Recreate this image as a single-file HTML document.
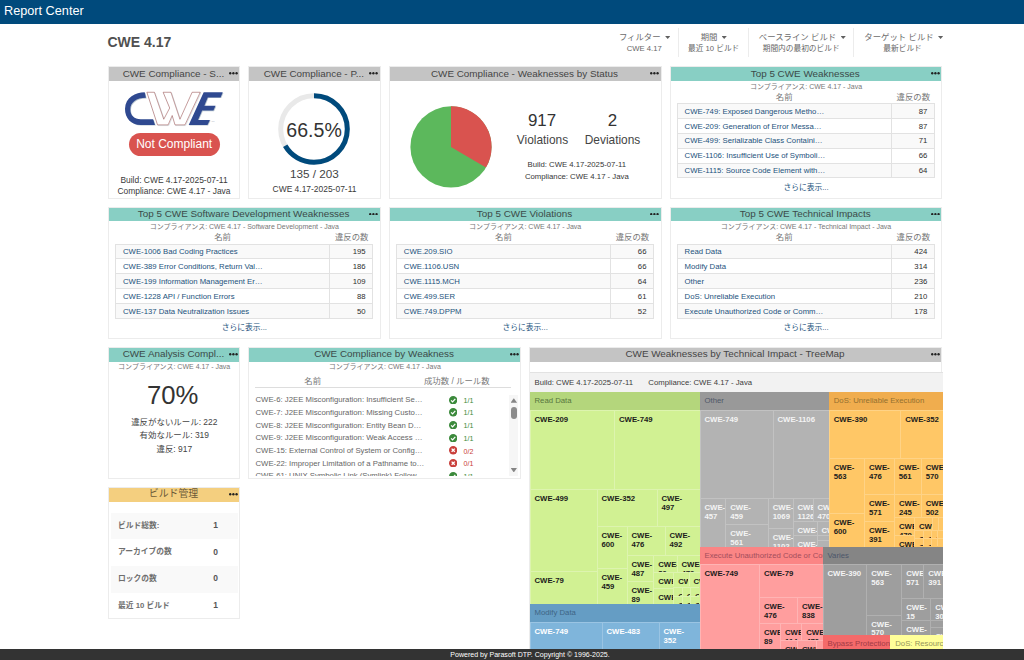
<!DOCTYPE html><html lang="ja"><head><meta charset="utf-8"><title>Report Center</title><style>
*{box-sizing:border-box;margin:0;padding:0}
html,body{width:1024px;height:660px;overflow:hidden;background:#fff}
body{font-family:"Liberation Sans","Noto Sans CJK JP",sans-serif;position:relative;color:#444}
.a{position:absolute;white-space:nowrap}
.t{position:absolute;white-space:nowrap;line-height:12px;height:12px}
.c{text-align:center}.r{text-align:right}
#top{left:0;top:0;width:1024px;height:24px;background:#004a7c}
#top span{position:absolute;left:4px;top:3.9px;font-size:12.7px;line-height:15px;color:#fff}
#title{left:107.5px;top:33.5px;font-size:14px;line-height:17px;font-weight:bold;color:#505050}
.fl{font-size:8.4px;color:#6c6c6c}.fv{font-size:7.7px;color:#666}
.caret{position:absolute;width:5.2px;height:2.8px;background:#606060;clip-path:polygon(0 0,100% 0,50% 100%)}
.dv{position:absolute;width:1px;top:28px;height:28.5px;background:#ececec}
.w{position:absolute;background:#fff;border:1px solid #ececec;overflow:hidden}
.h{position:absolute;left:-1px;top:-1px;right:-1px;height:14.6px;font-size:9.9px;line-height:14.8px;text-align:center;color:#444;white-space:nowrap;overflow:hidden;padding-right:1.5px;padding-top:.3px}
.h.g{background:#c4c4c4}.h.tl{background:#88cfc4;color:#3b4a48}.h.y{background:#f4cf7f;color:#6b5a38}
.dots{position:absolute;right:2.7px;top:6.0px;width:8.8px;height:2.5px;fill:#222}
.dots i{position:absolute;top:0;width:2.4px;height:2.4px;border-radius:50%;background:#222}
.sub{font-size:7px;color:#777}
.th{font-size:8.4px;color:#777}
.tb{position:absolute;border:1px solid #e2e2e2;border-bottom:0}
.tr{position:relative;height:14.84px;border-bottom:1px solid #e2e2e2;font-size:7.75px;line-height:14.8px;color:#23527c}
.tr.o{background:#f9f9f9}
.tr .n{position:absolute;left:7px;top:.6px;white-space:nowrap}
.tr .v{position:absolute;right:0;top:0;width:43px;height:100%;padding-top:.6px;border-left:1px solid #e2e2e2;text-align:right;padding-right:6.5px;color:#2e2e2e}
.more{font-size:7.75px;color:#23527c}
.small{font-size:8.45px;color:#3a3a3a}
.xs{font-size:7.75px;color:#363636}
.li{font-size:7.75px;color:#666}
.ok{color:#3c8a3c}.bad{color:#c9403c}
.tm{position:absolute;overflow:hidden;font-size:7.75px;line-height:8.75px;font-weight:bold;white-space:nowrap}
.tm span{position:absolute;left:5px;top:6.1px;overflow:visible;word-break:normal}
.band{position:absolute;overflow:hidden;font-size:7.75px;line-height:18px;white-space:nowrap;padding-left:5px}
.bm{font-size:7.75px;font-weight:bold;color:#6e6e6e}
#foot{left:0;top:649.2px;width:1024px;height:11px;background:#333;color:#fff;font-size:7.05px;line-height:12.6px;text-align:center;padding-left:36px;overflow:hidden}
</style></head><body>
<div id="top" class="a"><span>Report Center</span></div>
<div id="title" class="a">CWE 4.17</div>
<div class="t fl" style="left:360.60px;width:300px;top:30.50px;text-align:right;">フィルター</div>
<i class="caret" style="left:665.10px;top:36.10px"></i>
<div class="t fv" style="left:361.80px;width:300px;top:43.00px;text-align:right;">CWE 4.17</div>
<div class="t fl" style="left:559.10px;width:300px;top:30.50px;text-align:center;">期間</div>
<i class="caret" style="left:721.60px;top:36.10px"></i>
<div class="t fv" style="left:563.70px;width:300px;top:43.00px;text-align:center;">最近 10 ビルド</div>
<div class="t fl" style="left:647.50px;width:300px;top:30.50px;text-align:center;">ベースライン ビルド</div>
<i class="caret" style="left:840.60px;top:36.10px"></i>
<div class="t fv" style="left:651.20px;width:300px;top:43.00px;text-align:center;">期間内の最初のビルド</div>
<div class="t fl" style="left:749.00px;width:300px;top:30.50px;text-align:center;">ターゲット ビルド</div>
<i class="caret" style="left:938.00px;top:36.10px"></i>
<div class="t fv" style="left:752.60px;width:300px;top:43.00px;text-align:center;">最新ビルド</div>
<i class="dv" style="left:678px"></i>
<i class="dv" style="left:747.5px"></i>
<i class="dv" style="left:853.3px"></i>
<div class="w" style="left:108.00px;top:66.30px;width:132.40px;height:132.3px"><div class="h g">CWE Compliance - S...<svg class="dots" viewBox="0 0 86 24"><circle cx="12" cy="12" r="11.5"/><circle cx="43" cy="12" r="11.5"/><circle cx="74" cy="12" r="11.5"/></svg></div></div>
<svg class="a" style="left:120px;top:88px;width:108px;height:41px" viewBox="0 0 1728 656">
<g transform="translate(11,11)" fill="#b9c6cf"><path fill="none" stroke="#c5d0d6" stroke-width="9" d="M430,68 550,68 700,500 795,320 690,68 815,68 959,500 1154,68 1284,68 1039,590 880,590 835,440 770,590 600,590Z"/><path d="M395,68 C250,68 85,150 80,330 C78,480 180,590 330,590 L560,590 L530,500 L330,500 C230,500 165,440 165,340 C165,230 260,155 415,155 Z"/><path d="M1339,68 1644,68 1609,150 1404,150 1349,285 1529,285 1494,360 1314,360 1249,510 1439,510 1399,590 1099,590Z"/></g>
<path fill="#fff" stroke="#934545" stroke-width="8.5" stroke-linejoin="miter" d="M430,68 550,68 700,500 795,320 690,68 815,68 959,500 1154,68 1284,68 1039,590 880,590 835,440 770,590 600,590Z"/>
<path fill="#2f4990" d="M395,68 C250,68 85,150 80,330 C78,480 180,590 330,590 L560,590 L530,500 L330,500 C230,500 165,440 165,340 C165,230 260,155 415,155 Z"/>
<path fill="#2f4990" d="M1339,68 1644,68 1609,150 1404,150 1349,285 1529,285 1494,360 1314,360 1249,510 1439,510 1399,590 1099,590Z"/>
<text x="1465" y="545" font-size="34" fill="#aab" font-family="Liberation Sans, sans-serif">TM</text>
</svg>
<div class="a" style="left:128.8px;top:133px;width:90.8px;height:23px;border-radius:12px;background:#d9534f;color:#fff;font-size:12px;line-height:22.5px;text-align:center">Not Compliant</div>
<div class="t small" style="left:24.00px;width:300px;top:173.50px;text-align:center;">Build: CWE 4.17-2025-07-11</div>
<div class="t small" style="left:24.00px;width:300px;top:185.00px;text-align:center;">Compliance: CWE 4.17 - Java</div>
<div class="w" style="left:248.40px;top:66.30px;width:132.40px;height:132.3px"><div class="h g">CWE Compliance - P...<svg class="dots" viewBox="0 0 86 24"><circle cx="12" cy="12" r="11.5"/><circle cx="43" cy="12" r="11.5"/><circle cx="74" cy="12" r="11.5"/></svg></div></div>
<svg class="a" style="left:273.9px;top:89px;width:80px;height:80px" viewBox="-40 -40 80 80"><circle r="33.3" fill="none" stroke="#e9e9e9" stroke-width="5"/><circle r="33.3" fill="none" stroke="#004a7c" stroke-width="5" stroke-dasharray="139.14 209.23" transform="rotate(-90)"/></svg>
<div class="t " style="left:164.10px;width:300px;top:123.50px;text-align:center;font-size:19.6px;color:#333;">66.5%</div>
<div class="t " style="left:164.30px;width:300px;top:168.00px;text-align:center;font-size:11.7px;color:#444;">135 / 203</div>
<div class="t small" style="left:164.50px;width:300px;top:182.60px;text-align:center;">CWE 4.17-2025-07-11</div>
<div class="w" style="left:388.80px;top:66.30px;width:272.80px;height:132.3px"><div class="h g">CWE Compliance - Weaknesses by Status<svg class="dots" viewBox="0 0 86 24"><circle cx="12" cy="12" r="11.5"/><circle cx="43" cy="12" r="11.5"/><circle cx="74" cy="12" r="11.5"/></svg></div></div>
<svg class="a" style="left:0;top:0;width:1024px;height:660px;pointer-events:none" viewBox="0 0 1024 660"><circle cx="451" cy="146.9" r="40.6" fill="#5cb85c"/><path d="M451,146.9 L451,106.30000000000001 A40.6,40.6 0 0 1 485.95,167.57Z" fill="#d9534f"/></svg>
<div class="t " style="left:392.00px;width:300px;top:115.20px;text-align:center;font-size:16.9px;color:#333;">917</div>
<div class="t " style="left:462.50px;width:300px;top:115.20px;text-align:center;font-size:16.9px;color:#333;">2</div>
<div class="t " style="left:392.50px;width:300px;top:133.90px;text-align:center;font-size:11.9px;color:#444;">Violations</div>
<div class="t " style="left:462.50px;width:300px;top:133.90px;text-align:center;font-size:11.9px;color:#444;">Deviations</div>
<div class="t xs" style="left:426.80px;width:300px;top:159.00px;text-align:center;">Build: CWE 4.17-2025-07-11</div>
<div class="t xs" style="left:426.80px;width:300px;top:170.50px;text-align:center;">Compliance: CWE 4.17 - Java</div>
<div class="w" style="left:669.60px;top:66.30px;width:272.80px;height:132.3px"><div class="h tl">Top 5 CWE Weaknesses<svg class="dots" viewBox="0 0 86 24"><circle cx="12" cy="12" r="11.5"/><circle cx="43" cy="12" r="11.5"/><circle cx="74" cy="12" r="11.5"/></svg></div></div>
<div class="t sub" style="left:656.00px;width:300px;top:80.60px;text-align:center;">コンプライアンス: CWE 4.17 - Java</div>
<div class="t th" style="left:634.20px;width:300px;top:90.80px;text-align:center;">名前</div>
<div class="t th" style="left:763.30px;width:300px;top:90.80px;text-align:center;">違反の数</div>
<div class="tb" style="left:676.60px;top:103.20px;width:258.20px"><div class="tr o"><span class="n">CWE-749: Exposed Dangerous Metho…</span><span class="v">87</span></div><div class="tr"><span class="n">CWE-209: Generation of Error Messa…</span><span class="v">87</span></div><div class="tr o"><span class="n">CWE-499: Serializable Class Containi…</span><span class="v">71</span></div><div class="tr"><span class="n">CWE-1106: Insufficient Use of Symboli…</span><span class="v">66</span></div><div class="tr o"><span class="n">CWE-1115: Source Code Element with…</span><span class="v">64</span></div></div>
<div class="t more" style="left:656.00px;width:300px;top:181.90px;text-align:center;">さらに表示...</div>
<div class="w" style="left:108.00px;top:206.70px;width:272.80px;height:132.3px"><div class="h tl">Top 5 CWE Software Development Weaknesses<svg class="dots" viewBox="0 0 86 24"><circle cx="12" cy="12" r="11.5"/><circle cx="43" cy="12" r="11.5"/><circle cx="74" cy="12" r="11.5"/></svg></div></div>
<div class="t sub" style="left:94.40px;width:300px;top:221.00px;text-align:center;">コンプライアンス: CWE 4.17 - Software Development - Java</div>
<div class="t th" style="left:72.60px;width:300px;top:231.20px;text-align:center;">名前</div>
<div class="t th" style="left:201.70px;width:300px;top:231.20px;text-align:center;">違反の数</div>
<div class="tb" style="left:115.00px;top:243.60px;width:258.20px"><div class="tr o"><span class="n">CWE-1006 Bad Coding Practices</span><span class="v">195</span></div><div class="tr"><span class="n">CWE-389 Error Conditions, Return Val…</span><span class="v">186</span></div><div class="tr o"><span class="n">CWE-199 Information Management Er…</span><span class="v">109</span></div><div class="tr"><span class="n">CWE-1228 API / Function Errors</span><span class="v">88</span></div><div class="tr o"><span class="n">CWE-137 Data Neutralization Issues</span><span class="v">50</span></div></div>
<div class="t more" style="left:94.40px;width:300px;top:322.30px;text-align:center;">さらに表示...</div>
<div class="w" style="left:388.80px;top:206.70px;width:272.80px;height:132.3px"><div class="h tl">Top 5 CWE Violations<svg class="dots" viewBox="0 0 86 24"><circle cx="12" cy="12" r="11.5"/><circle cx="43" cy="12" r="11.5"/><circle cx="74" cy="12" r="11.5"/></svg></div></div>
<div class="t sub" style="left:375.20px;width:300px;top:221.00px;text-align:center;">コンプライアンス: CWE 4.17 - Java</div>
<div class="t th" style="left:353.40px;width:300px;top:231.20px;text-align:center;">名前</div>
<div class="t th" style="left:482.50px;width:300px;top:231.20px;text-align:center;">違反の数</div>
<div class="tb" style="left:395.80px;top:243.60px;width:258.20px"><div class="tr o"><span class="n">CWE.209.SIO</span><span class="v">66</span></div><div class="tr"><span class="n">CWE.1106.USN</span><span class="v">66</span></div><div class="tr o"><span class="n">CWE.1115.MCH</span><span class="v">64</span></div><div class="tr"><span class="n">CWE.499.SER</span><span class="v">61</span></div><div class="tr o"><span class="n">CWE.749.DPPM</span><span class="v">52</span></div></div>
<div class="t more" style="left:375.20px;width:300px;top:322.30px;text-align:center;">さらに表示...</div>
<div class="w" style="left:669.60px;top:206.70px;width:272.80px;height:132.3px"><div class="h tl">Top 5 CWE Technical Impacts<svg class="dots" viewBox="0 0 86 24"><circle cx="12" cy="12" r="11.5"/><circle cx="43" cy="12" r="11.5"/><circle cx="74" cy="12" r="11.5"/></svg></div></div>
<div class="t sub" style="left:656.00px;width:300px;top:221.00px;text-align:center;">コンプライアンス: CWE 4.17 - Technical Impact - Java</div>
<div class="t th" style="left:634.20px;width:300px;top:231.20px;text-align:center;">名前</div>
<div class="t th" style="left:763.30px;width:300px;top:231.20px;text-align:center;">違反の数</div>
<div class="tb" style="left:676.60px;top:243.60px;width:258.20px"><div class="tr o"><span class="n">Read Data</span><span class="v">424</span></div><div class="tr"><span class="n">Modify Data</span><span class="v">314</span></div><div class="tr o"><span class="n">Other</span><span class="v">236</span></div><div class="tr"><span class="n">DoS: Unreliable Execution</span><span class="v">210</span></div><div class="tr o"><span class="n">Execute Unauthorized Code or Comm…</span><span class="v">178</span></div></div>
<div class="t more" style="left:656.00px;width:300px;top:322.30px;text-align:center;">さらに表示...</div>
<div class="w" style="left:108.00px;top:347.00px;width:132.40px;height:132.3px"><div class="h tl">CWE Analysis Compl...<svg class="dots" viewBox="0 0 86 24"><circle cx="12" cy="12" r="11.5"/><circle cx="43" cy="12" r="11.5"/><circle cx="74" cy="12" r="11.5"/></svg></div></div>
<div class="t sub" style="left:24.20px;width:300px;top:360.80px;text-align:center;">コンプライアンス: CWE 4.17 - Java</div>
<div class="t " style="left:22.70px;width:300px;top:389.40px;text-align:center;font-size:25.7px;color:#333;">70%</div>
<div class="t " style="left:24.30px;width:300px;top:416.00px;text-align:center;font-size:8.45px;color:#444;">違反がないルール: 222</div>
<div class="t " style="left:24.30px;width:300px;top:429.30px;text-align:center;font-size:8.45px;color:#444;">有効なルール: 319</div>
<div class="t " style="left:24.30px;width:300px;top:443.00px;text-align:center;font-size:8.45px;color:#444;">違反: 917</div>
<div class="w" style="left:248.40px;top:347.00px;width:272.80px;height:132.3px"><div class="h tl">CWE Compliance by Weakness<svg class="dots" viewBox="0 0 86 24"><circle cx="12" cy="12" r="11.5"/><circle cx="43" cy="12" r="11.5"/><circle cx="74" cy="12" r="11.5"/></svg></div></div>
<div class="t sub" style="left:234.80px;width:300px;top:360.80px;text-align:center;">コンプライアンス: CWE 4.17 - Java</div>
<div class="t th" style="left:162.70px;width:300px;top:374.60px;text-align:center;">名前</div>
<div class="t th" style="left:306.80px;width:300px;top:374.60px;text-align:center;">成功数 / ルール数</div>
<i class="a" style="left:255.3px;top:386.5px;width:255.6px;height:1px;background:#ddd"></i>
<div class="a" style="left:250px;top:390px;width:268px;height:86.3px;overflow:hidden">
<div class="t li" style="left:5.5px;top:4.30px">CWE-6: J2EE Misconfiguration: Insufficient Se…</div>
<svg class="a" style="left:198.8px;top:5.7px;width:8.4px;height:8.4px" viewBox="0 0 16 16"><circle cx="8" cy="8" r="8" fill="#3c8a3c"/><path d="M4 8.4l2.8 2.8 5.2-5.6" fill="none" stroke="#fff" stroke-width="2.4"/></svg>
<div class="t li ok" style="left:213.6px;top:4.80px;font-size:7.15px">1/1</div>
<div class="t li" style="left:5.5px;top:16.98px">CWE-7: J2EE Misconfiguration: Missing Custo…</div>
<svg class="a" style="left:198.8px;top:18.38px;width:8.4px;height:8.4px" viewBox="0 0 16 16"><circle cx="8" cy="8" r="8" fill="#3c8a3c"/><path d="M4 8.4l2.8 2.8 5.2-5.6" fill="none" stroke="#fff" stroke-width="2.4"/></svg>
<div class="t li ok" style="left:213.6px;top:17.48px;font-size:7.15px">1/1</div>
<div class="t li" style="left:5.5px;top:29.66px">CWE-8: J2EE Misconfiguration: Entity Bean D…</div>
<svg class="a" style="left:198.8px;top:31.06px;width:8.4px;height:8.4px" viewBox="0 0 16 16"><circle cx="8" cy="8" r="8" fill="#3c8a3c"/><path d="M4 8.4l2.8 2.8 5.2-5.6" fill="none" stroke="#fff" stroke-width="2.4"/></svg>
<div class="t li ok" style="left:213.6px;top:30.16px;font-size:7.15px">1/1</div>
<div class="t li" style="left:5.5px;top:42.34px">CWE-9: J2EE Misconfiguration: Weak Access …</div>
<svg class="a" style="left:198.8px;top:43.74px;width:8.4px;height:8.4px" viewBox="0 0 16 16"><circle cx="8" cy="8" r="8" fill="#3c8a3c"/><path d="M4 8.4l2.8 2.8 5.2-5.6" fill="none" stroke="#fff" stroke-width="2.4"/></svg>
<div class="t li ok" style="left:213.6px;top:42.84px;font-size:7.15px">1/1</div>
<div class="t li" style="left:5.5px;top:55.02px">CWE-15: External Control of System or Config…</div>
<svg class="a" style="left:198.8px;top:56.42px;width:8.4px;height:8.4px" viewBox="0 0 16 16"><circle cx="8" cy="8" r="8" fill="#c9403c"/><path d="M5 5l6 6M11 5l-6 6" fill="none" stroke="#fff" stroke-width="2.6"/></svg>
<div class="t li bad" style="left:213.6px;top:55.52px;font-size:7.15px">0/2</div>
<div class="t li" style="left:5.5px;top:67.70px">CWE-22: Improper Limitation of a Pathname to…</div>
<svg class="a" style="left:198.8px;top:69.1px;width:8.4px;height:8.4px" viewBox="0 0 16 16"><circle cx="8" cy="8" r="8" fill="#c9403c"/><path d="M5 5l6 6M11 5l-6 6" fill="none" stroke="#fff" stroke-width="2.6"/></svg>
<div class="t li bad" style="left:213.6px;top:68.20px;font-size:7.15px">0/1</div>
<div class="t li" style="left:5.5px;top:80.38px">CWE-61: UNIX Symbolic Link (Symlink) Follow…</div>
<svg class="a" style="left:198.8px;top:81.78px;width:8.4px;height:8.4px" viewBox="0 0 16 16"><circle cx="8" cy="8" r="8" fill="#3c8a3c"/><path d="M4 8.4l2.8 2.8 5.2-5.6" fill="none" stroke="#fff" stroke-width="2.4"/></svg>
<div class="t li ok" style="left:213.6px;top:80.88px;font-size:7.15px">1/1</div>
</div>
<i class="a" style="left:509.2px;top:394.8px;width:9.2px;height:81.5px;background:#f6f6f6"></i>
<i class="a" style="left:510.5px;top:398.2px;width:6.6px;height:4.6px;background:#858585;clip-path:polygon(50% 0,100% 100%,0 100%)"></i>
<i class="a" style="left:510.5px;top:467.8px;width:6.6px;height:4.6px;background:#858585;clip-path:polygon(0 0,100% 0,50% 100%)"></i>
<i class="a" style="left:510.9px;top:407px;width:6px;height:12px;border-radius:3px;background:#8c8c8c"></i>
<div class="w" style="left:108.00px;top:487.00px;width:132.40px;height:132.3px"><div class="h y">ビルド管理<svg class="dots" viewBox="0 0 86 24"><circle cx="12" cy="12" r="11.5"/><circle cx="43" cy="12" r="11.5"/><circle cx="74" cy="12" r="11.5"/></svg></div></div>
<i class="a" style="left:110.5px;top:512.60px;width:127.3px;height:26.2px;background:#f9f9f9"></i>
<div class="t bm" style="left:118.00px;top:519.70px;">ビルド総数:</div>
<div class="t bm" style="left:65.60px;width:300px;top:519.00px;text-align:center;font-size:8.45px;color:#555;">1</div>
<div class="t bm" style="left:118.00px;top:546.35px;">アーカイブの数</div>
<div class="t bm" style="left:65.60px;width:300px;top:545.65px;text-align:center;font-size:8.45px;color:#555;">0</div>
<i class="a" style="left:110.5px;top:566.40px;width:127.3px;height:26.2px;background:#f9f9f9"></i>
<div class="t bm" style="left:118.00px;top:573.00px;">ロックの数</div>
<div class="t bm" style="left:65.60px;width:300px;top:572.30px;text-align:center;font-size:8.45px;color:#555;">0</div>
<div class="t bm" style="left:118.00px;top:599.65px;">最近 10 ビルド</div>
<div class="t bm" style="left:65.60px;width:300px;top:598.95px;text-align:center;font-size:8.45px;color:#555;">1</div>
<div class="w" style="left:529.20px;top:347.00px;width:413.20px;height:330px"><div class="h g">CWE Weaknesses by Technical Impact - TreeMap<svg class="dots" viewBox="0 0 86 24"><circle cx="12" cy="12" r="11.5"/><circle cx="43" cy="12" r="11.5"/><circle cx="74" cy="12" r="11.5"/></svg></div></div>
<div class="a" style="left:529.5px;top:372.0px;width:413.10px;height:288.0px;overflow:hidden">
<div class="a" style="left:0;top:0;width:413.10px;height:19.75px;background:#f2f2f2;border-top:1px solid #e2e2e2;font-size:7.75px;line-height:20px;color:#3c3c3c"><span class="a" style="left:5px">Build: CWE 4.17-2025-07-11</span><span class="a" style="left:118.8px">Compliance: CWE 4.17 - Java</span></div>
<i class="a" style="left:0.00px;top:19.75px;width:170.00px;height:212.25px;background:#d1f193"></i>
<i class="a" style="left:0.00px;top:231.75px;width:170.00px;height:56.25px;background:#7fb5db"></i>
<i class="a" style="left:170.00px;top:19.75px;width:129.25px;height:154.85px;background:#b3b3b3"></i>
<i class="a" style="left:299.25px;top:19.75px;width:113.85px;height:154.85px;background:#ffc766"></i>
<i class="a" style="left:170.00px;top:174.50px;width:123.00px;height:113.50px;background:#ff9e9e"></i>
<i class="a" style="left:293.00px;top:174.50px;width:120.10px;height:88.50px;background:#9e9e9e"></i>
<div class="band" style="left:0.00px;top:19.75px;width:170.00px;height:18.25px;background:#b4d67c;color:#58763f">Read Data</div>
<div class="band" style="left:0.00px;top:231.75px;width:170.00px;height:18.25px;background:#659dc4;color:#3f6585">Modify Data</div>
<div class="band" style="left:170.00px;top:19.75px;width:129.25px;height:18.25px;background:#999999;color:#4f5868">Other</div>
<div class="band" style="left:299.25px;top:19.75px;width:113.85px;height:18.25px;background:#f0ad4e;color:#94702f">DoS: Unreliable Execution</div>
<div class="band" style="left:170.00px;top:174.50px;width:123.00px;height:17.75px;background:#fb8585;color:#a34e5c">Execute Unauthorized Code or Commands</div>
<div class="band" style="left:293.00px;top:174.50px;width:120.10px;height:17.75px;background:#858585;color:#4c566a">Varies</div>
<div class="band" style="left:293.00px;top:262.50px;width:67.75px;height:25.50px;background:#f46a6a;color:#a33a45">Bypass Protection Mechanism</div>
<div class="band" style="left:360.75px;top:262.50px;width:52.35px;height:25.50px;background:#ffff99;color:#95955a">DoS: Resource Consumption</div>
<div class="tm" style="left:0.00px;top:38.00px;width:84.50px;height:79.25px;background:#d1f193;box-shadow:inset 1px 1px 0 #ddf4af;color:#1c1c1c"><span>CWE-209</span></div>
<div class="tm" style="left:84.50px;top:38.00px;width:85.50px;height:79.25px;background:#d1f193;box-shadow:inset 1px 1px 0 #ddf4af;color:#1c1c1c"><span>CWE-749</span></div>
<div class="tm" style="left:0.00px;top:117.25px;width:67.00px;height:82.00px;background:#d1f193;box-shadow:inset 1px 1px 0 #ddf4af;color:#1c1c1c"><span>CWE-499</span></div>
<div class="tm" style="left:0.00px;top:199.25px;width:67.00px;height:32.50px;background:#d1f193;box-shadow:inset 1px 1px 0 #ddf4af;color:#1c1c1c"><span>CWE-79</span></div>
<div class="tm" style="left:67.00px;top:117.25px;width:60.00px;height:37.00px;background:#d1f193;box-shadow:inset 1px 1px 0 #ddf4af;color:#1c1c1c"><span>CWE-352</span></div>
<div class="tm" style="left:127.00px;top:117.25px;width:43.00px;height:37.00px;background:#d1f193;box-shadow:inset 1px 1px 0 #ddf4af;color:#1c1c1c"><span>CWE-<br>497</span></div>
<div class="tm" style="left:67.00px;top:154.25px;width:30.00px;height:42.00px;background:#d1f193;box-shadow:inset 1px 1px 0 #ddf4af;color:#1c1c1c"><span>CWE-<br>600</span></div>
<div class="tm" style="left:97.00px;top:154.25px;width:38.00px;height:28.75px;background:#d1f193;box-shadow:inset 1px 1px 0 #ddf4af;color:#1c1c1c"><span>CWE-<br>476</span></div>
<div class="tm" style="left:135.00px;top:154.25px;width:35.00px;height:28.75px;background:#d1f193;box-shadow:inset 1px 1px 0 #ddf4af;color:#1c1c1c"><span>CWE-<br>492</span></div>
<div class="tm" style="left:67.00px;top:196.25px;width:30.00px;height:35.50px;background:#d1f193;box-shadow:inset 1px 1px 0 #ddf4af;color:#1c1c1c"><span>CWE-<br>459</span></div>
<div class="tm" style="left:97.00px;top:183.00px;width:26.75px;height:25.75px;background:#d1f193;box-shadow:inset 1px 1px 0 #ddf4af;color:#1c1c1c"><span>CWE-<br>487</span></div>
<div class="tm" style="left:97.00px;top:208.75px;width:26.75px;height:23.00px;background:#d1f193;box-shadow:inset 1px 1px 0 #ddf4af;color:#1c1c1c"><span>CWE-<br>89</span></div>
<div class="tm" style="left:123.75px;top:183.00px;width:23.25px;height:17.20px;background:#d1f193;box-shadow:inset 1px 1px 0 #ddf4af;color:#1c1c1c"><span>CWE-<br>80</span></div>
<div class="tm" style="left:147.00px;top:183.00px;width:23.00px;height:17.20px;background:#d1f193;box-shadow:inset 1px 1px 0 #ddf4af;color:#1c1c1c"><span>CWE-<br>479</span></div>
<div class="tm" style="left:123.75px;top:200.20px;width:19.95px;height:16.00px;background:#d1f193;box-shadow:inset 1px 1px 0 #ddf4af;color:#1c1c1c"><span>CWE-<br>94</span></div>
<div class="tm" style="left:143.70px;top:200.20px;width:15.30px;height:14.30px;background:#d1f193;box-shadow:inset 1px 1px 0 #ddf4af;color:#1c1c1c"><span>CWE-<br>15</span></div>
<div class="tm" style="left:159.00px;top:200.20px;width:11.00px;height:14.30px;background:#d1f193;box-shadow:inset 1px 1px 0 #ddf4af;color:#1c1c1c"><span>CWE-<br>22</span></div>
<div class="tm" style="left:123.75px;top:216.20px;width:19.95px;height:15.55px;background:#d1f193;box-shadow:inset 1px 1px 0 #ddf4af;color:#1c1c1c"><span>CWE-<br>114</span></div>
<div class="tm" style="left:143.70px;top:214.50px;width:8.50px;height:9.00px;background:#d1f193;box-shadow:inset 1px 1px 0 #ddf4af;color:#1c1c1c"><span>CWE-<br>73</span></div>
<div class="tm" style="left:152.20px;top:214.50px;width:8.40px;height:9.00px;background:#d1f193;box-shadow:inset 1px 1px 0 #ddf4af;color:#1c1c1c"><span>CWE-<br>99</span></div>
<div class="tm" style="left:160.60px;top:214.50px;width:9.40px;height:9.00px;background:#d1f193;box-shadow:inset 1px 1px 0 #ddf4af;color:#1c1c1c"><span>CWE-<br>23</span></div>
<div class="tm" style="left:143.70px;top:223.50px;width:8.50px;height:8.25px;background:#d1f193;box-shadow:inset 1px 1px 0 #ddf4af;color:#1c1c1c"><span>CWE-<br>36</span></div>
<div class="tm" style="left:152.20px;top:223.50px;width:8.40px;height:8.25px;background:#d1f193;box-shadow:inset 1px 1px 0 #ddf4af;color:#1c1c1c"><span>CWE-<br>78</span></div>
<div class="tm" style="left:160.60px;top:223.50px;width:9.40px;height:8.25px;background:#d1f193;box-shadow:inset 1px 1px 0 #ddf4af;color:#1c1c1c"><span>CWE-<br>91</span></div>
<div class="tm" style="left:0.00px;top:250.00px;width:72.00px;height:38.00px;background:#7fb5db;box-shadow:inset 1px 1px 0 #9ac4e3;color:#ffffff"><span>CWE-749</span></div>
<div class="tm" style="left:72.00px;top:250.00px;width:57.00px;height:38.00px;background:#7fb5db;box-shadow:inset 1px 1px 0 #9ac4e3;color:#ffffff"><span>CWE-483</span></div>
<div class="tm" style="left:129.00px;top:250.00px;width:41.00px;height:38.00px;background:#7fb5db;box-shadow:inset 1px 1px 0 #9ac4e3;color:#ffffff"><span>CWE-<br>352</span></div>
<div class="tm" style="left:170.00px;top:38.00px;width:73.00px;height:88.25px;background:#b3b3b3;box-shadow:inset 1px 1px 0 #c2c2c2;color:#f4f4f4"><span>CWE-749</span></div>
<div class="tm" style="left:243.00px;top:38.00px;width:56.25px;height:88.25px;background:#b3b3b3;box-shadow:inset 1px 1px 0 #c2c2c2;color:#f4f4f4"><span>CWE-1106</span></div>
<div class="tm" style="left:170.00px;top:126.25px;width:25.75px;height:48.25px;background:#b3b3b3;box-shadow:inset 1px 1px 0 #c2c2c2;color:#f4f4f4"><span>CWE-<br>457</span></div>
<div class="tm" style="left:195.75px;top:126.25px;width:42.50px;height:25.50px;background:#b3b3b3;box-shadow:inset 1px 1px 0 #c2c2c2;color:#f4f4f4"><span>CWE-<br>459</span></div>
<div class="tm" style="left:195.75px;top:151.75px;width:42.50px;height:22.75px;background:#b3b3b3;box-shadow:inset 1px 1px 0 #c2c2c2;color:#f4f4f4"><span>CWE-<br>561</span></div>
<div class="tm" style="left:238.25px;top:126.25px;width:24.75px;height:30.00px;background:#b3b3b3;box-shadow:inset 1px 1px 0 #c2c2c2;color:#f4f4f4"><span>CWE-<br>1069</span></div>
<div class="tm" style="left:263.00px;top:126.25px;width:20.00px;height:23.00px;background:#b3b3b3;box-shadow:inset 1px 1px 0 #c2c2c2;color:#f4f4f4"><span>CWE-<br>1126</span></div>
<div class="tm" style="left:283.00px;top:126.25px;width:16.25px;height:23.00px;background:#b3b3b3;box-shadow:inset 1px 1px 0 #c2c2c2;color:#f4f4f4"><span>CWE-<br>470</span></div>
<div class="tm" style="left:238.25px;top:156.25px;width:24.75px;height:18.25px;background:#b3b3b3;box-shadow:inset 1px 1px 0 #c2c2c2;color:#f4f4f4"><span>CWE-<br>1102</span></div>
<div class="tm" style="left:263.00px;top:149.25px;width:24.00px;height:13.75px;background:#b3b3b3;box-shadow:inset 1px 1px 0 #c2c2c2;color:#f4f4f4"><span>CWE-<br>1078</span></div>
<div class="tm" style="left:287.00px;top:149.25px;width:12.25px;height:13.25px;background:#b3b3b3;box-shadow:inset 1px 1px 0 #c2c2c2;color:#f4f4f4"><span>CWE-<br>15</span></div>
<div class="tm" style="left:287.00px;top:162.50px;width:12.25px;height:5.80px;background:#b3b3b3;box-shadow:inset 1px 1px 0 #c2c2c2;color:#f4f4f4"></div>
<div class="tm" style="left:287.00px;top:168.30px;width:12.25px;height:6.20px;background:#b3b3b3;box-shadow:inset 1px 1px 0 #c2c2c2;color:#f4f4f4"></div>
<div class="tm" style="left:263.00px;top:163.00px;width:24.00px;height:11.50px;background:#b3b3b3;box-shadow:inset 1px 1px 0 #c2c2c2;color:#f4f4f4"><span>CWE-<br>1080</span></div>
<div class="tm" style="left:299.25px;top:38.00px;width:71.50px;height:48.25px;background:#ffc766;box-shadow:inset 1px 1px 0 #ffd386;color:#1c1c1c"><span>CWE-390</span></div>
<div class="tm" style="left:370.75px;top:38.00px;width:59.75px;height:48.25px;background:#ffc766;box-shadow:inset 1px 1px 0 #ffd386;color:#1c1c1c"><span>CWE-352</span></div>
<div class="tm" style="left:299.25px;top:86.25px;width:35.25px;height:55.00px;background:#ffc766;box-shadow:inset 1px 1px 0 #ffd386;color:#1c1c1c"><span>CWE-<br>563</span></div>
<div class="tm" style="left:299.25px;top:141.25px;width:35.25px;height:33.25px;background:#ffc766;box-shadow:inset 1px 1px 0 #ffd386;color:#1c1c1c"><span>CWE-<br>600</span></div>
<div class="tm" style="left:334.50px;top:86.25px;width:29.75px;height:35.50px;background:#ffc766;box-shadow:inset 1px 1px 0 #ffd386;color:#1c1c1c"><span>CWE-<br>476</span></div>
<div class="tm" style="left:364.25px;top:86.25px;width:27.00px;height:35.50px;background:#ffc766;box-shadow:inset 1px 1px 0 #ffd386;color:#1c1c1c"><span>CWE-<br>561</span></div>
<div class="tm" style="left:391.25px;top:86.25px;width:21.85px;height:35.50px;background:#ffc766;box-shadow:inset 1px 1px 0 #ffd386;color:#1c1c1c"><span>CWE-<br>570</span></div>
<div class="tm" style="left:334.50px;top:121.75px;width:30.00px;height:27.50px;background:#ffc766;box-shadow:inset 1px 1px 0 #ffd386;color:#1c1c1c"><span>CWE-<br>571</span></div>
<div class="tm" style="left:334.50px;top:149.25px;width:30.00px;height:25.25px;background:#ffc766;box-shadow:inset 1px 1px 0 #ffd386;color:#1c1c1c"><span>CWE-<br>391</span></div>
<div class="tm" style="left:364.50px;top:121.75px;width:26.75px;height:23.25px;background:#ffc766;box-shadow:inset 1px 1px 0 #ffd386;color:#1c1c1c"><span>CWE-<br>245</span></div>
<div class="tm" style="left:391.25px;top:121.75px;width:21.85px;height:23.25px;background:#ffc766;box-shadow:inset 1px 1px 0 #ffd386;color:#1c1c1c"><span>CWE-<br>502</span></div>
<div class="tm" style="left:364.50px;top:145.00px;width:20.00px;height:18.00px;background:#ffc766;box-shadow:inset 1px 1px 0 #ffd386;color:#1c1c1c"><span>CWE-<br>479</span></div>
<div class="tm" style="left:384.50px;top:145.00px;width:18.00px;height:13.00px;background:#ffc766;box-shadow:inset 1px 1px 0 #ffd386;color:#1c1c1c"><span>CWE-<br>470</span></div>
<div class="tm" style="left:402.50px;top:145.00px;width:6.25px;height:13.00px;background:#ffc766;box-shadow:inset 1px 1px 0 #ffd386;color:#1c1c1c"></div>
<div class="tm" style="left:408.75px;top:145.00px;width:4.35px;height:13.00px;background:#ffc766;box-shadow:inset 1px 1px 0 #ffd386;color:#1c1c1c"></div>
<div class="tm" style="left:364.50px;top:163.00px;width:20.00px;height:11.50px;background:#ffc766;box-shadow:inset 1px 1px 0 #ffd386;color:#1c1c1c"><span>CWE-<br>114</span></div>
<div class="tm" style="left:384.50px;top:158.00px;width:9.00px;height:8.20px;background:#ffc766;box-shadow:inset 1px 1px 0 #ffd386;color:#1c1c1c"><span>CWE-<br>1</span></div>
<div class="tm" style="left:393.50px;top:158.00px;width:7.50px;height:8.20px;background:#ffc766;box-shadow:inset 1px 1px 0 #ffd386;color:#1c1c1c"><span>CWE-<br>1</span></div>
<div class="tm" style="left:401.00px;top:158.00px;width:6.50px;height:8.20px;background:#ffc766;box-shadow:inset 1px 1px 0 #ffd386;color:#1c1c1c"><span>CWE-<br>1</span></div>
<div class="tm" style="left:407.50px;top:158.00px;width:5.60px;height:8.20px;background:#ffc766;box-shadow:inset 1px 1px 0 #ffd386;color:#1c1c1c"></div>
<div class="tm" style="left:384.50px;top:166.20px;width:9.00px;height:8.30px;background:#ffc766;box-shadow:inset 1px 1px 0 #ffd386;color:#1c1c1c"><span>CWE-<br>1</span></div>
<div class="tm" style="left:393.50px;top:166.20px;width:7.50px;height:8.30px;background:#ffc766;box-shadow:inset 1px 1px 0 #ffd386;color:#1c1c1c"><span>CWE-<br>1</span></div>
<div class="tm" style="left:401.00px;top:166.20px;width:6.50px;height:8.30px;background:#ffc766;box-shadow:inset 1px 1px 0 #ffd386;color:#1c1c1c"></div>
<div class="tm" style="left:407.50px;top:166.20px;width:5.60px;height:8.30px;background:#ffc766;box-shadow:inset 1px 1px 0 #ffd386;color:#1c1c1c"></div>
<div class="tm" style="left:170.00px;top:192.25px;width:59.50px;height:95.75px;background:#ff9e9e;box-shadow:inset 1px 1px 0 #ffb4b4;color:#1c1c1c"><span>CWE-749</span></div>
<div class="tm" style="left:229.50px;top:192.25px;width:63.50px;height:32.75px;background:#ff9e9e;box-shadow:inset 1px 1px 0 #ffb4b4;color:#1c1c1c"><span>CWE-79</span></div>
<div class="tm" style="left:229.50px;top:225.00px;width:38.00px;height:26.25px;background:#ff9e9e;box-shadow:inset 1px 1px 0 #ffb4b4;color:#1c1c1c"><span>CWE-<br>476</span></div>
<div class="tm" style="left:267.50px;top:225.00px;width:25.50px;height:26.25px;background:#ff9e9e;box-shadow:inset 1px 1px 0 #ffb4b4;color:#1c1c1c"><span>CWE-<br>838</span></div>
<div class="tm" style="left:229.50px;top:251.25px;width:21.00px;height:36.75px;background:#ff9e9e;box-shadow:inset 1px 1px 0 #ffb4b4;color:#1c1c1c"><span>CWE-<br>89</span></div>
<div class="tm" style="left:250.50px;top:251.25px;width:21.25px;height:16.75px;background:#ff9e9e;box-shadow:inset 1px 1px 0 #ffb4b4;color:#1c1c1c"><span>CWE-<br>114</span></div>
<div class="tm" style="left:271.75px;top:251.25px;width:21.25px;height:16.75px;background:#ff9e9e;box-shadow:inset 1px 1px 0 #ffb4b4;color:#1c1c1c"><span>CWE-<br>470</span></div>
<div class="tm" style="left:250.50px;top:268.00px;width:17.00px;height:20.00px;background:#ff9e9e;box-shadow:inset 1px 1px 0 #ffb4b4;color:#1c1c1c"><span>CWE-<br>94</span></div>
<div class="tm" style="left:267.50px;top:268.00px;width:19.25px;height:20.00px;background:#ff9e9e;box-shadow:inset 1px 1px 0 #ffb4b4;color:#1c1c1c"><span>CWE-<br>78</span></div>
<div class="tm" style="left:286.75px;top:268.00px;width:6.25px;height:20.00px;background:#ff9e9e;box-shadow:inset 1px 1px 0 #ffb4b4;color:#1c1c1c"></div>
<div class="tm" style="left:293.00px;top:192.25px;width:43.75px;height:70.25px;background:#9e9e9e;box-shadow:inset 1px 1px 0 #b0b0b0;color:#f4f4f4"><span>CWE-390</span></div>
<div class="tm" style="left:336.75px;top:192.25px;width:35.00px;height:50.25px;background:#9e9e9e;box-shadow:inset 1px 1px 0 #b0b0b0;color:#f4f4f4"><span>CWE-<br>563</span></div>
<div class="tm" style="left:336.75px;top:242.50px;width:35.00px;height:20.00px;background:#9e9e9e;box-shadow:inset 1px 1px 0 #b0b0b0;color:#f4f4f4"><span>CWE-<br>570</span></div>
<div class="tm" style="left:371.75px;top:192.25px;width:22.00px;height:33.75px;background:#9e9e9e;box-shadow:inset 1px 1px 0 #b0b0b0;color:#f4f4f4"><span>CWE-<br>571</span></div>
<div class="tm" style="left:393.75px;top:192.25px;width:19.35px;height:33.75px;background:#9e9e9e;box-shadow:inset 1px 1px 0 #b0b0b0;color:#f4f4f4"><span>CWE-<br>391</span></div>
<div class="tm" style="left:371.75px;top:226.00px;width:29.00px;height:21.50px;background:#9e9e9e;box-shadow:inset 1px 1px 0 #b0b0b0;color:#f4f4f4"><span>CWE-<br>15</span></div>
<div class="tm" style="left:400.75px;top:226.00px;width:12.35px;height:21.50px;background:#9e9e9e;box-shadow:inset 1px 1px 0 #b0b0b0;color:#f4f4f4"><span>CWE-<br>306</span></div>
<div class="tm" style="left:371.75px;top:247.50px;width:29.00px;height:15.00px;background:#9e9e9e;box-shadow:inset 1px 1px 0 #b0b0b0;color:#f4f4f4"><span>CWE-<br>252</span></div>
<div class="tm" style="left:400.75px;top:247.50px;width:12.35px;height:7.00px;background:#9e9e9e;box-shadow:inset 1px 1px 0 #b0b0b0;color:#f4f4f4"></div>
<div class="tm" style="left:400.75px;top:254.50px;width:12.35px;height:8.00px;background:#9e9e9e;box-shadow:inset 1px 1px 0 #b0b0b0;color:#f4f4f4"><span>CWE-<br>1</span></div>
</div>
<div id="foot" class="a">Powered by Parasoft DTP. Copyright © 1996-2025.</div>
</body></html>
